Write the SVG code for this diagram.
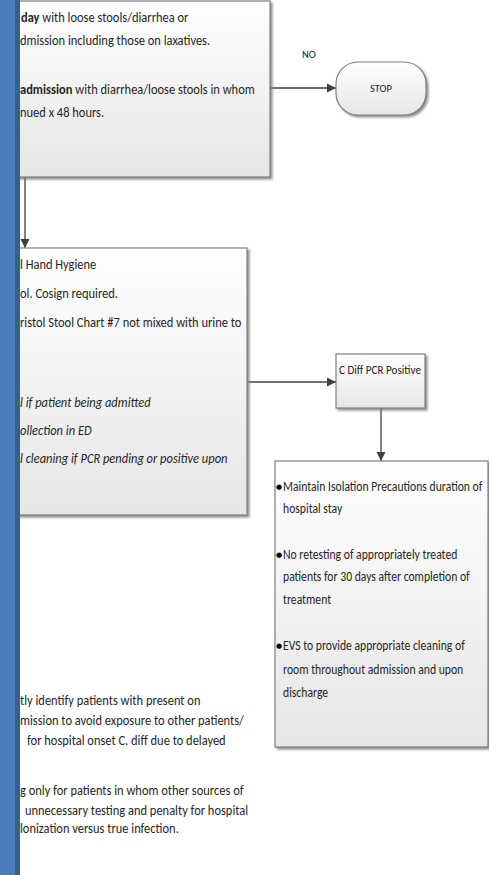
<svg xmlns="http://www.w3.org/2000/svg" width="489" height="875" viewBox="0 0 489 875">
<defs>
<linearGradient id="g" x1="0" y1="0" x2="0" y2="1">
<stop offset="0" stop-color="#ffffff"/>
<stop offset="1" stop-color="#e6e6e6"/>
</linearGradient>
<filter id="sh" x="-5%" y="-5%" width="115%" height="115%">
<feDropShadow dx="2" dy="2" stdDeviation="1" flood-color="#7f7f7f" flood-opacity="0.85"/>
</filter>
<marker id="ah" markerWidth="10" markerHeight="10" refX="9" refY="5" orient="auto" markerUnits="userSpaceOnUse">
<path d="M0,0.5 L9,5 L0,9.5 Z" fill="#404040"/>
</marker>
<style>
.box{fill:url(#g);stroke:#7f7f7f;stroke-width:1.2;filter:url(#sh)}
.t{font-family:Carlito,"Liberation Sans",Arial,sans-serif;font-size:14px;fill:#262626}
.s{font-size:10.5px}
.m{font-size:13.5px}
.cd{font-size:12.5px}
.i{font-style:italic}
.b{font-weight:bold}
.dot{font-family:"DejaVu Sans",sans-serif;font-size:7px;fill:#000}
.c{fill:none;stroke:#404040;stroke-width:1.3;marker-end:url(#ah)}
</style>
</defs>
<rect width="489" height="875" fill="#ffffff"/>

<g id="connectors">
<path class="c" d="M25,177 V248"/>
<path class="c" d="M270,88 H336"/>
<path class="c" d="M247,382 H336"/>
<path class="c" d="M381,408 V461"/>
</g>

<g id="node-screen">
<rect class="box" x="-10" y="1" width="280" height="176"/>
<g transform="translate(20,0) scale(0.89,1)">
<text class="t" x="1.1" y="22"><tspan class="b">day</tspan> with loose stools/diarrhea or</text>
<text class="t" x="0" y="45">dmission including those on laxatives.</text>
<text class="t" x="0" y="94"><tspan class="b">admission</tspan> with diarrhea/loose stools in whom</text>
<text class="t" x="0" y="117">nued x 48 hours.</text>
</g>
</g>

<g id="node-no-label">
<text class="t s" x="302" y="58">NO</text>
</g>

<g id="node-stop">
<rect class="box" x="336" y="62" width="90" height="53" rx="22" ry="22"/>
<text class="t s" x="381" y="92" text-anchor="middle">STOP</text>
</g>

<g id="node-actions">
<rect class="box" x="-10" y="248" width="257" height="267"/>
<g transform="translate(20,0) scale(0.89,1)">
<text class="t" x="0" y="269">l Hand Hygiene</text>
<text class="t" x="0" y="298">ol. Cosign required.</text>
<text class="t" x="0" y="327">ristol Stool Chart #7 not mixed with urine to</text>
<text class="t i" x="0" y="407">l if patient being admitted</text>
<text class="t i" x="0" y="435">ollection in ED</text>
<text class="t i" x="0" y="463">l cleaning if PCR pending or positive upon</text>
</g>
</g>

<g id="node-cdiff">
<rect class="box" x="336" y="354" width="89" height="54"/>
<g transform="translate(339,0) scale(0.89,1)">
<text class="t cd" x="0" y="374">C Diff PCR Positive</text>
</g>
</g>

<g id="node-positive-actions">
<rect class="box" x="275" y="461" width="213" height="286"/>
<text class="dot" x="276" y="489">●</text>
<text class="dot" x="276" y="557">●</text>
<text class="dot" x="276" y="648">●</text>
<g transform="translate(283,0) scale(0.865,1)">
<text class="t m" x="0" y="491">Maintain Isolation Precautions duration of</text>
<text class="t m" x="0" y="513">hospital stay</text>
<text class="t m" x="0" y="559">No retesting of appropriately treated</text>
<text class="t m" x="0" y="581">patients for 30 days after completion of</text>
<text class="t m" x="0" y="604">treatment</text>
<text class="t m" x="0" y="650">EVS to provide appropriate cleaning of</text>
<text class="t m" x="0" y="674">room throughout admission and upon</text>
<text class="t m" x="0" y="697">discharge</text>
</g>
</g>

<g id="notes">
<g transform="translate(20,0) scale(0.89,1)">
<text class="t" x="0" y="705">tly identify patients with present on</text>
<text class="t" x="0" y="725">mission to avoid exposure to other patients/</text>
<text class="t" x="7.9" y="745">for hospital onset C. diff due to delayed</text>
<text class="t" x="0" y="795">g only for patients in whom other sources of</text>
<text class="t" x="5.6" y="815">unnecessary testing and penalty for hospital</text>
<text class="t" x="0" y="833">lonization versus true infection.</text>
</g>
</g>

<g id="sidebar">
<rect x="0" y="0" width="15" height="875" fill="#4a7dbd"/>
<rect x="15" y="0" width="5" height="875" fill="#36608f"/>
</g>
</svg>
